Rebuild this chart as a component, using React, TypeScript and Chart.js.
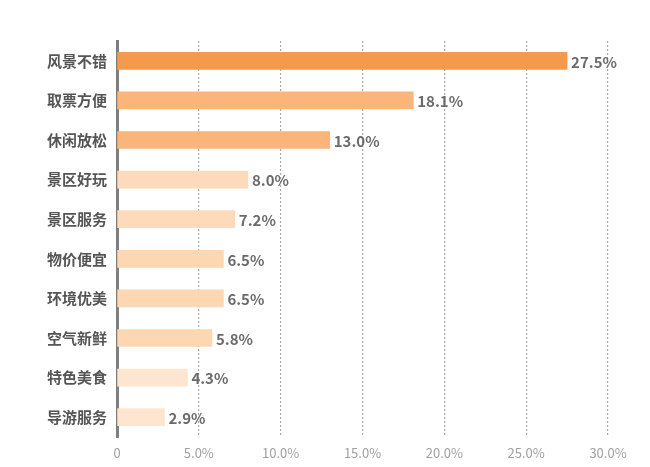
import { useEffect, useRef } from "react"
import { Chart, registerables } from "chart.js"

Chart.register(...registerables)

const categories = ["风景不错", "取票方便", "休闲放松", "景区好玩", "景区服务", "物价便宜", "环境优美", "空气新鲜", "特色美食", "导游服务"]
const values = [27.5, 18.1, 13.0, 8.0, 7.2, 6.5, 6.5, 5.8, 4.3, 2.9]
const barColors = ["#F59A4C", "#FBB57B", "#FBB57B", "#FDDABA", "#FDDABA", "#FDD6B2", "#FDD6B2", "#FDD6B2", "#FDE5CF", "#FDE5CF"]
const tickValues = [0, 5, 10, 15, 20, 25, 30]

const FONT = "'Noto Sans CJK SC', 'Noto Sans', sans-serif"

// draws the percentage text just past the end of each bar
const valueLabels = {
  id: "valueLabels",
  afterDatasetsDraw(chart: Chart) {
    const ctx = chart.ctx
    const meta = chart.getDatasetMeta(0)
    ctx.save()
    ctx.font = `bold 15px ${FONT}`
    ctx.fillStyle = "#6b6b6b"
    ctx.textAlign = "left"
    ctx.textBaseline = "middle"
    meta.data.forEach((bar: any, i: number) => {
      ctx.fillText(values[i].toFixed(1) + "%", bar.x + 4, bar.y + 1)
    })
    ctx.restore()
  },
}

const App = () => {
  const chartRef = useRef<HTMLCanvasElement>(null)
  const chartInstance = useRef<Chart | null>(null)

  useEffect(() => {
    if (!chartRef.current) return
    if (chartInstance.current) chartInstance.current.destroy()
    const ctx = chartRef.current.getContext("2d")
    if (!ctx) return

    chartInstance.current = new Chart(ctx, {
      type: "bar",
      data: {
        labels: categories,
        datasets: [
          {
            data: values,
            backgroundColor: barColors,
            barThickness: 17,
          },
        ],
      },
      options: {
        indexAxis: "y",
        animation: false,
        responsive: false,
        maintainAspectRatio: false,
        layout: { padding: { top: 41, right: 42, left: 0, bottom: 0 } },
        plugins: {
          legend: { display: false },
          tooltip: { enabled: false },
        },
        scales: {
          x: {
            min: 0,
            max: 30,
            afterBuildTicks: (scale: any) => {
              scale.ticks = tickValues.map((v) => ({ value: v }))
            },
            afterFit: (scale: any) => {
              scale.height = 30
            },
            border: { display: false, dash: [2, 2] },
            grid: {
              color: (c: any) => (c.tick && c.tick.value === 0 ? "rgba(0,0,0,0)" : "#a8a8a8"),
              lineWidth: 1.2,
              drawTicks: false,
            },
            ticks: {
              padding: 8,
              color: "#a0a0a0",
              font: { family: FONT, size: 13 },
              callback: (v: any) => (v === 0 ? "0" : Number(v).toFixed(1) + "%"),
            },
          },
          y: {
            afterFit: (scale: any) => {
              scale.width = 117
            },
            border: { display: true, color: "#7f7f7f", width: 3 },
            grid: { display: false, drawTicks: false },
            ticks: {
              padding: 10,
              color: "#555555",
              font: { family: FONT, size: 15, weight: "bold" },
            },
          },
        },
      },
      plugins: [valueLabels],
    })

    return () => {
      if (chartInstance.current) {
        chartInstance.current.destroy()
        chartInstance.current = null
      }
    }
  }, [])

  return (
    <div style={{ position: "fixed", left: 0, top: 0, width: 650, height: 467, background: "#ffffff" }}>
      <canvas ref={chartRef} width={650} height={467} />
    </div>
  )
}

export default App
